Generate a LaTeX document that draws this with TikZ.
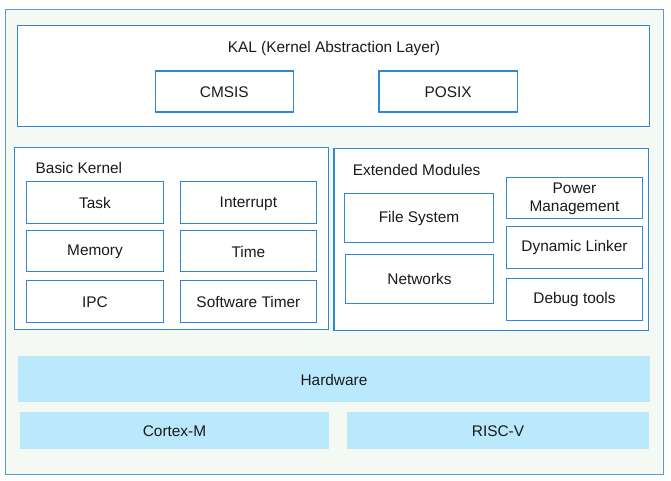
\documentclass[tikz,border=0pt]{standalone}
\usepackage{fontspec}
\setmainfont{Liberation Sans}
\definecolor{kblue}{HTML}{2F86D6}
\definecolor{oblue}{HTML}{5B9BD5}
\definecolor{bgfill}{HTML}{F5F9F4}
\definecolor{hwblue}{HTML}{BAE8FD}
\definecolor{txt}{HTML}{1A1A1A}

\begin{document}
\begin{tikzpicture}[x=1pt, y=-1pt,
    box/.style={draw=kblue, line width=1.2pt, fill=white},
    hw/.style={fill=hwblue},
    lbl/.style={font=\fontsize{15.4}{17.5}\selectfont, text=txt, align=center}]
    \useasboundingbox (0,0) rectangle (671,480);
    % outer frame
    \draw[draw=oblue, line width=1pt, fill=bgfill] (5.3,9.3) rectangle (663.3,474.3);

    % KAL
    \draw[box] (17.3,25.3) rectangle (649.7,126.3);
    \node[lbl] (kal) at (334,48.5) {KAL (Kernel Abstraction Layer)};
    \draw[box] (155.3,71) rectangle (293.3,112);
    \draw[box] (379,71) rectangle (517.3,112);
    \node[lbl] (cmsis) at (224.3,92.3) {CMSIS};
    \node[lbl] (posix) at (448.2,92.3) {POSIX};

    % Basic Kernel
    \draw[box] (14.3,147.3) rectangle (328.7,329.5);
    \node[lbl, anchor=west, inner sep=0] (basic) at (35.5,168) {Basic Kernel};
    \draw[box] (26.3,181.7) rectangle (163.7,223.3);
    \draw[box] (180.3,181.7) rectangle (316.5,223.3);
    \draw[box] (26.3,230.3) rectangle (163.7,271.3);
    \draw[box] (180.3,230.3) rectangle (316.5,271.3);
    \draw[box] (26.3,280.7) rectangle (163.7,322.3);
    \draw[box] (180.3,280.7) rectangle (316.5,322.3);
    \node[lbl] (task) at (95,203.3) {Task};
    \node[lbl] (intr) at (248.4,203.3) {Interrupt};
    \node[lbl] (mem) at (95,251.5) {Memory};
    \node[lbl] (time) at (248.4,251.5) {Time};
    \node[lbl] (ipc) at (95,302.3) {IPC};
    \node[lbl] (swtmr) at (248.4,302.3) {Software Timer};

    % Extended Modules
    \draw[box] (334,148.3) rectangle (648.5,330.3);
    \node[lbl, anchor=west, inner sep=0] (ext) at (352.7,169.5) {Extended Modules};
    \draw[box] (344.3,193.3) rectangle (493.7,242.3);
    \draw[box] (345.3,254.3) rectangle (493.7,303.3);
    \draw[box] (506.3,177.3) rectangle (642.7,218.7);
    \draw[box] (506.3,226.3) rectangle (642.7,268.3);
    \draw[box] (506.3,278.3) rectangle (642.7,320.3);
    \node[lbl] (fs) at (419,218.5) {File System};
    \node[lbl] (net) at (419.5,279.3) {Networks};
    \node[lbl, font=\fontsize{15.4}{18}\selectfont] (pm) at (574.5,198.5) {Power\\Management};
    \node[lbl] (dynlink) at (574.5,248) {Dynamic Linker};
    \node[lbl] (debug) at (574.5,300) {Debug tools};

    % Hardware
    \fill[hw] (18,356) rectangle (650,401.7);
    \fill[hw] (20,412) rectangle (329,448.7);
    \fill[hw] (347,412) rectangle (649,448.7);
    \node[lbl] (hwlbl) at (334,379.5) {Hardware};
    \node[lbl] (cortex) at (174.5,431) {Cortex-M};
    \node[lbl] (riscv) at (498,431) {RISC-V};
\end{tikzpicture}
\end{document}
